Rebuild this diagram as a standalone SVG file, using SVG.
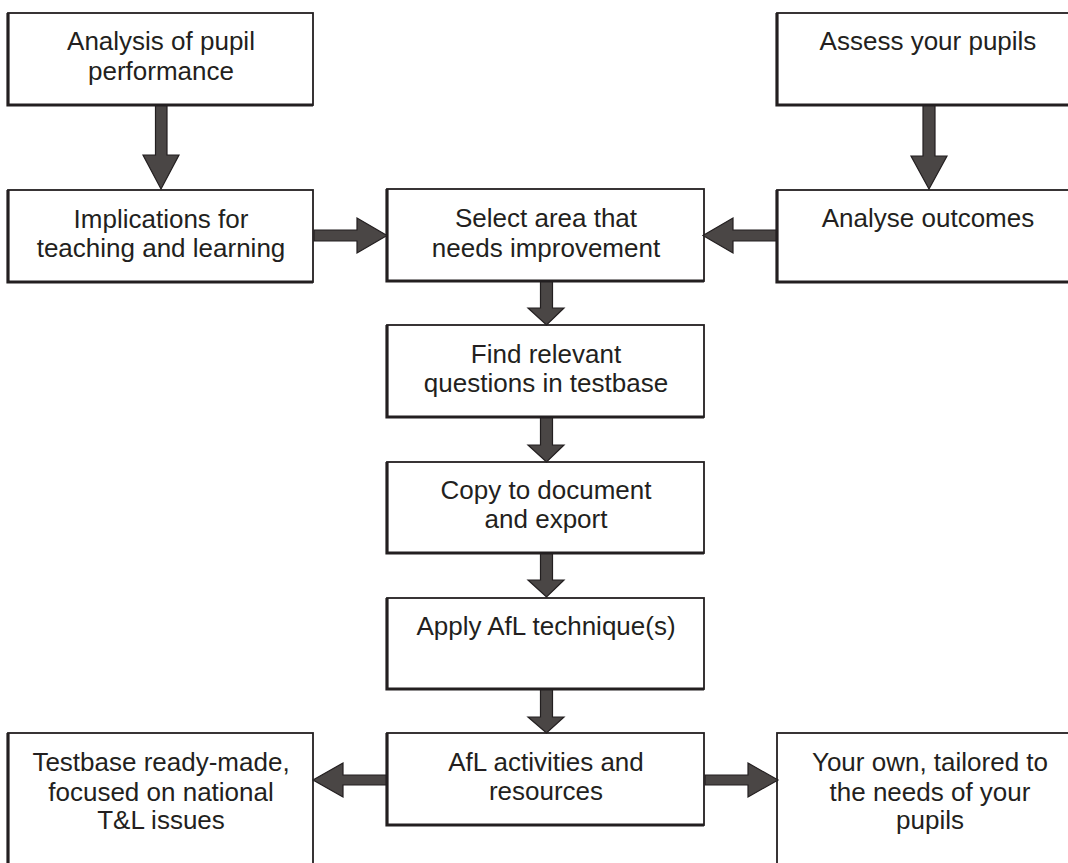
<svg xmlns="http://www.w3.org/2000/svg" width="1068" height="863" viewBox="0 0 1068 863">
<style>
.box{fill:#ffffff;stroke:#231f20;stroke-width:1.8}
.sh{fill:none;stroke:#231f20;stroke-width:3.2}
.t{font-family:"Liberation Sans",Arial,sans-serif;font-size:26px;fill:#231f20;text-anchor:middle}
.ar{fill:#4a4645;stroke:#231f20;stroke-width:1.2;stroke-linejoin:miter}
</style>
<rect width="1068" height="863" fill="#ffffff"/>
<g id="n1"><rect class="box" x="8" y="13" width="305" height="92"/><path class="sh" d="M8,13 V105 H313"/><text class="t" x="161" y="50">Analysis of pupil</text><text class="t" x="161" y="80">performance</text></g>
<g id="n2"><rect class="box" x="8" y="190" width="305" height="92"/><path class="sh" d="M8,190 V282 H313"/><text class="t" x="161" y="228">Implications for</text><text class="t" x="161" y="257">teaching and learning</text></g>
<g id="n3"><rect class="box" x="777" y="13" width="303" height="92"/><path class="sh" d="M777,13 V105 H1080"/><text class="t" x="928" y="50">Assess your pupils</text></g>
<g id="n4"><rect class="box" x="777" y="190" width="303" height="92"/><path class="sh" d="M777,190 V282 H1080"/><text class="t" x="928" y="227">Analyse outcomes</text></g>
<g id="n5"><rect class="box" x="387" y="189" width="317" height="92"/><path class="sh" d="M387,189 V281 H704"/><text class="t" x="546" y="227">Select area that</text><text class="t" x="546" y="257">needs improvement</text></g>
<g id="n6"><rect class="box" x="387" y="325" width="317" height="92"/><path class="sh" d="M387,325 V417 H704"/><text class="t" x="546" y="363">Find relevant</text><text class="t" x="546" y="392">questions in testbase</text></g>
<g id="n7"><rect class="box" x="387" y="462" width="317" height="91"/><path class="sh" d="M387,462 V553 H704"/><text class="t" x="546" y="499">Copy to document</text><text class="t" x="546" y="528">and export</text></g>
<g id="n8"><rect class="box" x="387" y="598" width="317" height="91"/><path class="sh" d="M387,598 V689 H704"/><text class="t" x="546" y="635">Apply AfL technique(s)</text></g>
<g id="n9"><rect class="box" x="387" y="733" width="317" height="92"/><path class="sh" d="M387,733 V825 H704"/><text class="t" x="546" y="771">AfL activities and</text><text class="t" x="546" y="800">resources</text></g>
<g id="n10"><rect class="box" x="8" y="733" width="305" height="170"/><path class="sh" d="M8,733 V903"/><text class="t" x="161" y="771">Testbase ready-made,</text><text class="t" x="161" y="801">focused on national</text><text class="t" x="161" y="829">T&amp;L issues</text></g>
<g id="n11"><rect class="box" x="777" y="733" width="303" height="170"/><text class="t" x="930" y="771">Your own, tailored to</text><text class="t" x="930" y="801">the needs of your</text><text class="t" x="930" y="829">pupils</text></g>
<g id="connectors">
<polygon class="ar" points="155.5,106 167,106 167,155 179,155 161,189 143,155 155.5,155"/>
<polygon class="ar" points="923,106 935,106 935,156 947,156 929,189 911,156 923,156"/>
<polygon class="ar" points="314,230 357,230 357,218 387,235.5 357,253 357,241 314,241"/>
<polygon class="ar" points="776,230 733,230 733,218 703,235.5 733,253 733,241 776,241"/>
<polygon class="ar" points="540.5,282 552.5,282 552.5,308 564,308 546.5,325 528,308 540.5,308"/>
<polygon class="ar" points="540.5,418 552.5,418 552.5,445 564,445 546.5,462 528,445 540.5,445"/>
<polygon class="ar" points="540.5,554 552.5,554 552.5,580 564,580 546.5,597 528,580 540.5,580"/>
<polygon class="ar" points="540.5,690 552.5,690 552.5,717 564,717 546.5,733 528,717 540.5,717"/>
<polygon class="ar" points="386,775 343,775 343,763 313,780 343,797 343,785 386,785"/>
<polygon class="ar" points="705,775 748,775 748,763 778,780 748,797 748,785 705,785"/>
</g>
</svg>
